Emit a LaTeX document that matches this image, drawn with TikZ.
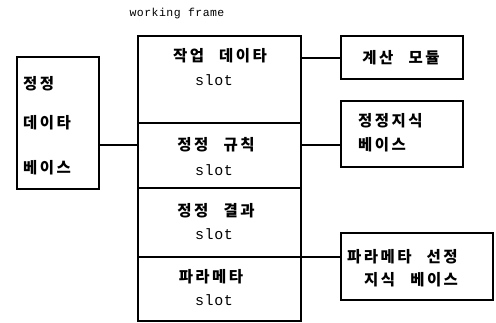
\documentclass[tikz,border=0pt]{standalone}
\usepackage{fontspec}
\newfontfamily\kr[LetterSpace=16,WordSpace=2.5]{Noto Sans CJK KR}
\newfontfamily\mono[LetterSpace=4]{Liberation Mono}
\begin{document}
\begin{tikzpicture}[x=1pt,y=-1pt,
  box/.style={draw,line width=1.2pt,inner sep=0pt,outer sep=0pt,rectangle},
  link/.style={line width=1.2pt},
  krt/.style={font=\kr\bfseries\fontsize{15.5}{17}\selectfont,inner sep=0pt},
  slt/.style={font=\mono\fontsize{15}{17}\selectfont,inner sep=0pt}]
\useasboundingbox (0,0) rectangle (496,322);
% title
\node[font=\mono\fontsize{11.5}{13}\selectfont,inner sep=0pt] (title) at (177,14) {working frame};
% working frame rows
\node[box,minimum width=163pt,minimum height=87pt] (row1) at (219.5,79.5) {};
\node[box,minimum width=163pt,minimum height=65pt] (row2) at (219.5,155.5) {};
\node[box,minimum width=163pt,minimum height=69pt] (row3) at (219.5,222.5) {};
\node[box,minimum width=163pt,minimum height=64pt] (row4) at (219.5,289) {};
\node[krt] (t1) at (220,56) {작업 데이타};
\node[slt] (s1) at (214,80) {slot};
\node[krt] (t2) at (216,145) {정정 규칙};
\node[slt] (s2) at (214,170) {slot};
\node[krt] (t3) at (216,211) {정정 결과};
\node[slt] (s3) at (214,234) {slot};
\node[krt] (t4) at (211,277) {파라메타};
\node[slt] (s4) at (214,300) {slot};
% left box
\node[box,minimum width=82pt,minimum height=132pt] (lb) at (58,123) {};
\node[krt,anchor=west] (l1) at (23,84) {정정};
\node[krt,anchor=west] (l2) at (23,123) {데이타};
\node[krt,anchor=west] (l3) at (23,168) {베이스};
% right boxes
\node[box,minimum width=122pt,minimum height=43pt] (rb1) at (402,57.5) {};
\node[krt] (r1) at (401,58) {계산 모듈};
\node[box,minimum width=122pt,minimum height=66pt] (rb2) at (402,134) {};
\node[krt,anchor=west] (r2a) at (358,121) {정정지식};
\node[krt,anchor=west] (r2b) at (358,145) {베이스};
\node[box,minimum width=152pt,minimum height=67pt] (rb3) at (417,266.5) {};
\node[krt,anchor=west] (r3a) at (347,257) {파라메타 선정};
\node[krt,anchor=west] (r3b) at (364,280) {지식 베이스};
% connectors
\coordinate (cl) at (0,145);
\coordinate (c1) at (0,58);
\coordinate (c2) at (0,145);
\draw[link] (lb.east |- cl) -- (row2.west |- cl);
\draw[link] (row1.east |- c1) -- (rb1.west |- c1);
\draw[link] (row2.east |- c2) -- (rb2.west |- c2);
\draw[link] (row4.north east) -- (rb3.west |- row4.north east);
\end{tikzpicture}
\end{document}
